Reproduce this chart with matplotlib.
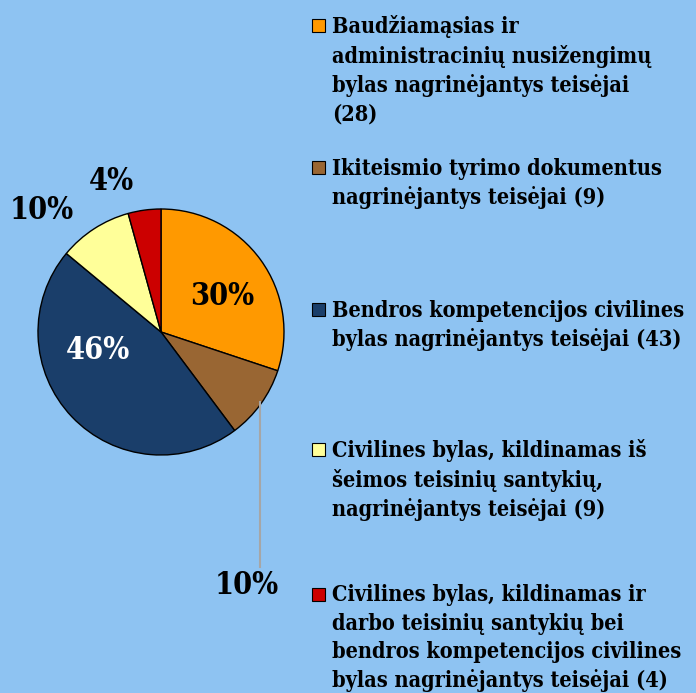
import matplotlib
matplotlib.use("Agg")
import matplotlib.pyplot as plt
import matplotlib.patches as patches

# data
values = [28, 9, 43, 9, 4]
pct_labels = ["30%", "10%", "46%", "10%", "4%"]
legend_labels = [
    "Baudžiamąsias ir\nadministracinių nusižengimų\nbylas nagrinėjantys teisėjai\n(28)",
    "Ikiteismio tyrimo dokumentus\nnagrinėjantys teisėjai (9)",
    "Bendros kompetencijos civilines\nbylas nagrinėjantys teisėjai (43)",
    "Civilines bylas, kildinamas iš\nšeimos teisinių santykių,\nnagrinėjantys teisėjai (9)",
    "Civilines bylas, kildinamas ir\ndarbo teisinių santykių bei\nbendros kompetencijos civilines\nbylas nagrinėjantys teisėjai (4)",
]
colors = ["#FF9900", "#996633", "#1A3E6A", "#FFFF99", "#CC0000"]

bg = "#8EC3F2"
W, H = 696, 693
FONT = dict(family="DejaVu Serif", fontweight="bold", fontstretch="condensed")

fig = plt.figure(figsize=(W / 100, H / 100), dpi=100, facecolor=bg)

# pie axes: center (161, 332) px, radius 123 px
cx, cy, r = 161, 332, 123
ax = fig.add_axes([(cx - r) / W, (H - cy - r) / H, 2 * r / W, 2 * r / H])
ax.set_facecolor(bg)
ax.pie(values, colors=colors, startangle=90, counterclock=False, radius=1,
       wedgeprops=dict(edgecolor="black", linewidth=1))
ax.set_xlim(-1, 1)
ax.set_ylim(-1, 1)
ax.axis("off")

# percentage labels (positions in radius units relative to pie center)
label_pos = [(0.50, 0.29), (0.70, -2.06), (-0.51, -0.15), (-0.97, 0.99), (-0.40, 1.22)]
label_col = ["black", "black", "white", "black", "black"]
for txt, (x, y), c in zip(pct_labels, label_pos, label_col):
    ax.text(x, y, txt, ha="center", va="center", fontsize=22, color=c,
            clip_on=False, **FONT)

# leader line for brown slice
ax.plot([0.805, 0.805], [-0.57, -1.91], color="#A6A6A6", lw=1.5, clip_on=False)

# legend
entry_top = [15.5, 157.5, 299.5, 439.5, 584.5]
for lab, c, yt in zip(legend_labels, colors, entry_top):
    fig.add_artist(patches.Rectangle((312 / W, 1 - (yt + 16.5) / H), 13 / W, 13 / H,
                                     transform=fig.transFigure, facecolor=c,
                                     edgecolor="black", linewidth=0.8))
    fig.text(332 / W, 1 - yt / H, lab, ha="left", va="top", fontsize=15.6,
             linespacing=1.36, **FONT)

fig.savefig("out.png", dpi=100, facecolor=bg)
